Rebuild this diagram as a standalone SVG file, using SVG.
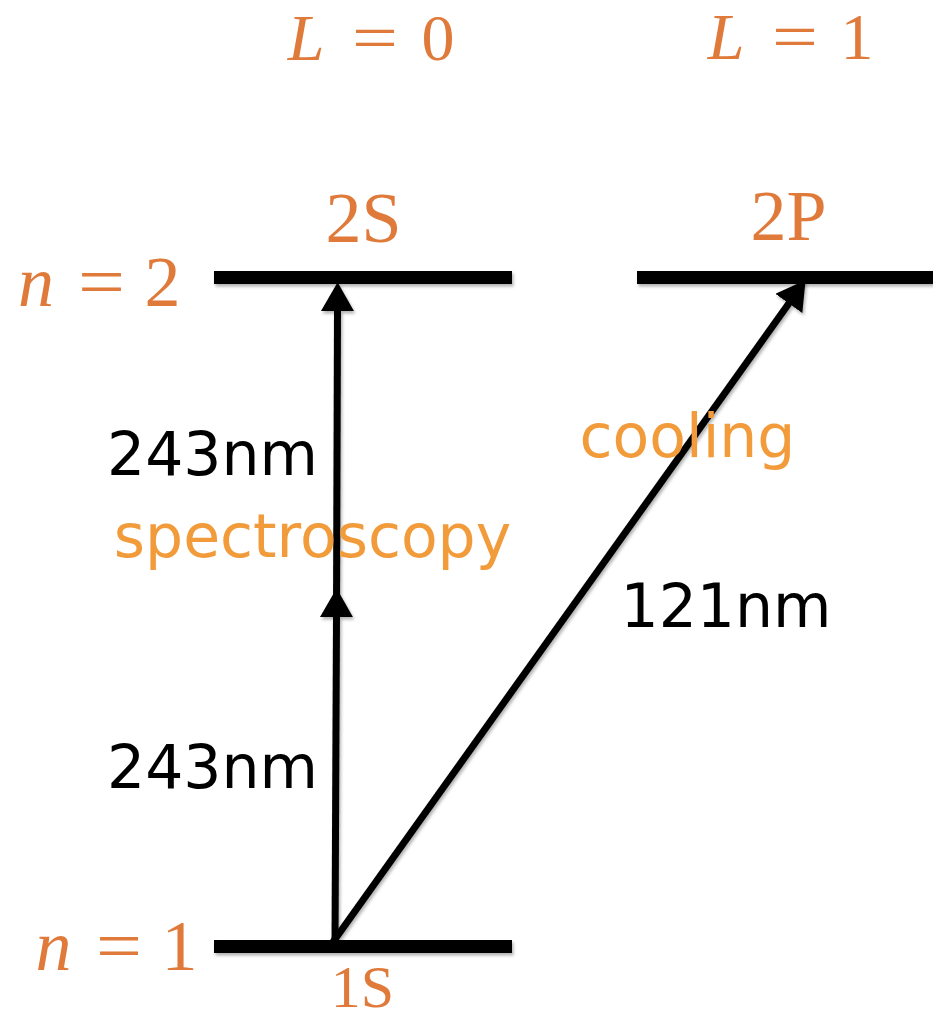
<svg xmlns="http://www.w3.org/2000/svg" width="933" height="1022" viewBox="0 0 933 1022">
<style>
.tex{font-family:"Liberation Serif","Times New Roman",serif;font-size:72px;fill:#E07A3A;text-anchor:middle}
.hd{font-size:66px}
.it{font-style:italic}
.lbl{font-family:"DejaVu Sans",Verdana,sans-serif;font-size:60px;text-anchor:middle}
.blk{fill:#000}
.org{fill:#F29B3B}
.bar{fill:#000}
.arr{stroke:#000;stroke-width:7;fill:none;marker-end:url(#ah)}
</style>
<defs>
<marker id="ah" markerUnits="userSpaceOnUse" markerWidth="30" markerHeight="33" refX="1" refY="15.5" orient="auto" viewBox="0 0 28 31">
<path d="M0,0 L27,15.5 L0,31 z" fill="#000"/>
</marker>
<filter id="sh" filterUnits="userSpaceOnUse" x="0" y="0" width="933" height="1022">
<feDropShadow dx="1.5" dy="2.5" stdDeviation="1.5" flood-color="#000" flood-opacity="0.3"/>
</filter>
</defs>
<g id="header-L0"><text class="tex hd it" x="306" y="60">L</text><text class="tex hd" x="375" y="60" textLength="46" lengthAdjust="spacingAndGlyphs">=</text><text class="tex hd" x="438" y="60">0</text></g>
<g id="header-L1"><text class="tex hd it" x="726" y="59">L</text><text class="tex hd" x="795" y="59" textLength="46" lengthAdjust="spacingAndGlyphs">=</text><text class="tex hd" x="857" y="59">1</text></g>
<g id="label-n2"><text class="tex it" x="36" y="306">n</text><text class="tex" x="101.5" y="306" textLength="47" lengthAdjust="spacingAndGlyphs">=</text><text class="tex" x="162.5" y="306">2</text></g>
<g id="label-n1"><text class="tex it" x="53.5" y="970">n</text><text class="tex" x="119" y="970" textLength="46" lengthAdjust="spacingAndGlyphs">=</text><text class="tex" x="179.5" y="970">1</text></g>
<g id="level-2S" filter="url(#sh)"><rect class="bar" x="214" y="271" width="298" height="13"/></g>
<g id="level-2P" filter="url(#sh)"><rect class="bar" x="637" y="271" width="296" height="13"/></g>
<g id="level-1S" filter="url(#sh)"><rect class="bar" x="214" y="940" width="298" height="13"/></g>
<g id="name-2S"><text class="tex" x="363.5" y="242">2S</text></g>
<g id="name-2P"><text class="tex" x="788.5" y="240">2P</text></g>
<g id="name-1S"><text class="tex" x="362.5" y="1007" style="font-size:60px">1S</text></g>
<g id="connectors" filter="url(#sh)">
<line class="arr" x1="335" y1="944" x2="336.5" y2="616"/>
<line class="arr" x1="336.5" y1="613" x2="337.5" y2="310"/>
<line class="arr" x1="333" y1="942" x2="789.5" y2="302.5"/>
</g>
<g id="texts">
<text class="lbl blk" x="212.5" y="475">243nm</text>
<text class="lbl org" x="312.5" y="557">spectroscopy</text>
<text class="lbl org" x="687.5" y="457">cooling</text>
<text class="lbl blk" x="726" y="627">121nm</text>
<text class="lbl blk" x="212.5" y="788">243nm</text>
</g>
</svg>
